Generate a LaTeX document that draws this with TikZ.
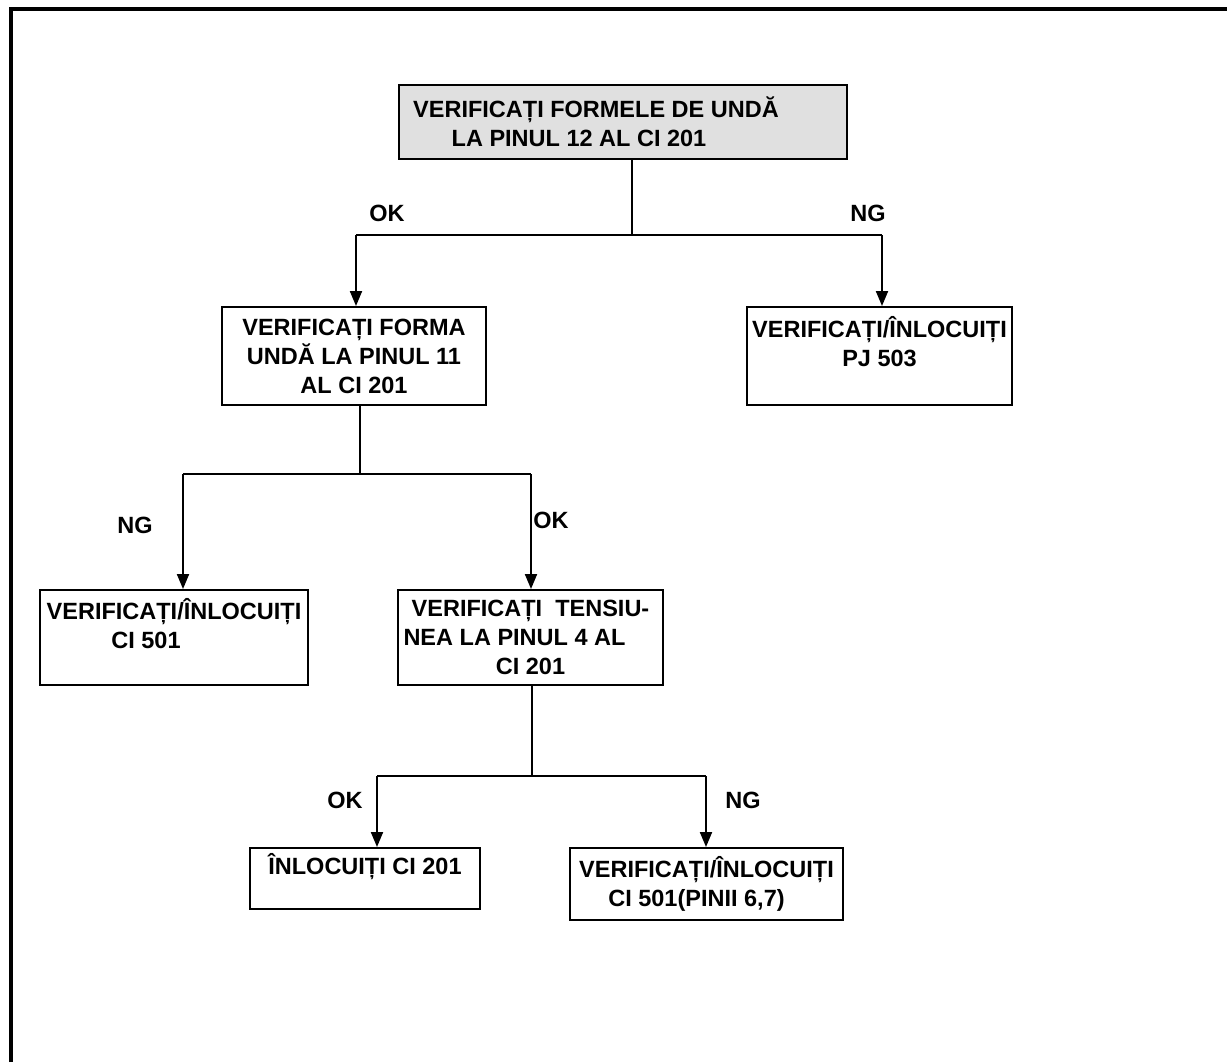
\documentclass[tikz,border=0pt]{standalone}
\usepackage{fontspec}
\setmainfont{Liberation Sans}
\usetikzlibrary{arrows.meta}
\tikzset{font=\fontsize{11.75}{14.5}\selectfont\bfseries}
\tikzset{box/.style={draw, line width=1pt, align=center, inner sep=2pt}}
\tikzset{arr/.style={-{Triangle[width=6pt,length=7.5pt]}}}

\begin{document}
\begin{tikzpicture}[x=0.5pt,y=-0.5pt,line width=1pt]
  \useasboundingbox (0,0) rectangle (1227,1062);
  \draw[line width=1.6pt] (11,1062) -- (11,9) -- (1227,9);

  \node[box, fill=black!12, minimum width=224pt, minimum height=37pt] (pin12) at (623,122)
    {\mbox{VERIFICAȚI FORMELE DE UNDĂ\hspace*{27pt}}\\\mbox{LA PINUL 12 AL CI 201\hspace*{44pt}}};
  \node[box, minimum width=132pt, minimum height=49pt] (pin11) at (354,356)
    {VERIFICAȚI FORMA\\UNDĂ LA PINUL 11\\AL CI 201};
  \node[box, minimum width=132.5pt, minimum height=49pt] (pj503) at (879.5,356)
    {VERIFICAȚI/ÎNLOCUIȚI\\PJ 503\\~};
  \node[box, minimum width=134pt, minimum height=47.5pt] (ci501) at (174,637.5)
    {VERIFICAȚI/ÎNLOCUIȚI\\\mbox{CI 501\hspace*{28pt}}\\~};
  \node[box, minimum width=132.5pt, minimum height=47.5pt] (pin4) at (530.5,637.5)
    {VERIFICAȚI~ TENSIU-\\\mbox{NEA LA PINUL 4 AL\hspace*{16pt}}\\CI 201};
  \node[box, minimum width=115pt, minimum height=30.5pt] (ci201) at (365,878.5)
    {ÎNLOCUIȚI CI 201\\~};
  \node[box, minimum width=136.5pt, minimum height=36pt] (pins67) at (706.5,884)
    {VERIFICAȚI/ÎNLOCUIȚI\\\mbox{CI 501(PINII 6,7)\hspace*{10pt}}};

  \coordinate (j1) at (632,235);
  \coordinate (j1l) at (356,235);
  \coordinate (j1r) at (882,235);
  \draw (pin12.south -| j1) -- (j1);
  \draw (j1l) -- (j1r);
  \draw[arr] (j1l) -- (j1l |- pin11.north);
  \draw[arr] (j1r) -- (j1r |- pj503.north);
  \node (ok1) at (387,213) {OK};
  \node (ng1) at (868,213) {NG};

  \coordinate (j2) at (360,474);
  \coordinate (j2l) at (183,474);
  \coordinate (j2r) at (531,474);
  \draw (pin11.south -| j2) -- (j2);
  \draw (j2l) -- (j2r);
  \draw[arr] (j2l) -- (j2l |- ci501.north);
  \draw[arr] (j2r) -- (j2r |- pin4.north);
  \node (ng2) at (135,525) {NG};
  \node (ok2) at (551,520) {OK};

  \coordinate (j3) at (532,776);
  \coordinate (j3l) at (377,776);
  \coordinate (j3r) at (706,776);
  \draw (pin4.south -| j3) -- (j3);
  \draw (j3l) -- (j3r);
  \draw[arr] (j3l) -- (j3l |- ci201.north);
  \draw[arr] (j3r) -- (j3r |- pins67.north);
  \node (ok3) at (345,800) {OK};
  \node (ng3) at (743,800) {NG};
\end{tikzpicture}
\end{document}
